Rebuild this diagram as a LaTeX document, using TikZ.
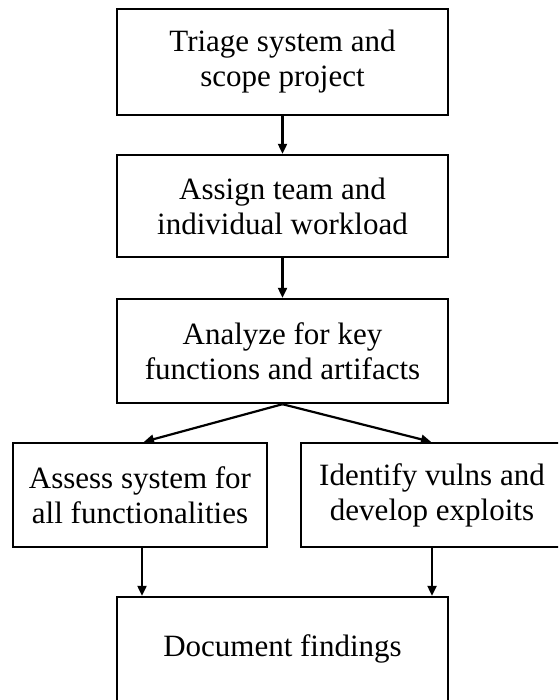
\documentclass[tikz,border=0pt]{standalone}
\usepackage{fontspec}
\setmainfont{Liberation Serif}
\usetikzlibrary{arrows.meta}
\begin{document}
\begin{tikzpicture}[x=1pt,y=1pt,
  box/.style={draw=black,line width=2.4pt,inner sep=0pt,align=center,
    font=\fontsize{31}{35}\selectfont,fill=white},
  arr/.style={line width=2.2pt,-{Triangle[length=10pt,width=9pt]}}]
\useasboundingbox (0,0) rectangle (558,700);
\clip (0,0) rectangle (558,700);
\fill[white] (0,0) rectangle (558,700);
\node[box,minimum width=331pt,minimum height=106pt] (b1) at (282.5,638) {Triage system and\\scope project};
\node[box,minimum width=331pt,minimum height=102pt] (b2) at (282.5,494) {Assign team and\\individual workload};
\node[box,minimum width=331pt,minimum height=104pt] (b3) at (282.5,349) {Analyze for key\\functions and artifacts};
\node[box,minimum width=254pt,minimum height=104pt] (b4) at (140,205) {Assess system for\\all functionalities};
\node[box,minimum width=262pt,minimum height=104pt] (b5) at (432,205) {Identify vulns and\\develop exploits};
\node[box,minimum width=331pt,minimum height=104pt] (b6) at (282.5,51) {Document findings};
\draw[arr] (b1.south) -- (b2.north);
\draw[arr] (b2.south) -- (b3.north);
\draw[arr] (b3.south) -- ([xshift=4pt]b4.north);
\draw[arr] (b3.south) -- ([xshift=-1pt]b5.north);
\draw[arr] ([xshift=2pt]b4.south) -- ([xshift=2pt]b4.south |- b6.north);
\draw[arr] (b5.south) -- (b5.south |- b6.north);
\end{tikzpicture}
\end{document}
